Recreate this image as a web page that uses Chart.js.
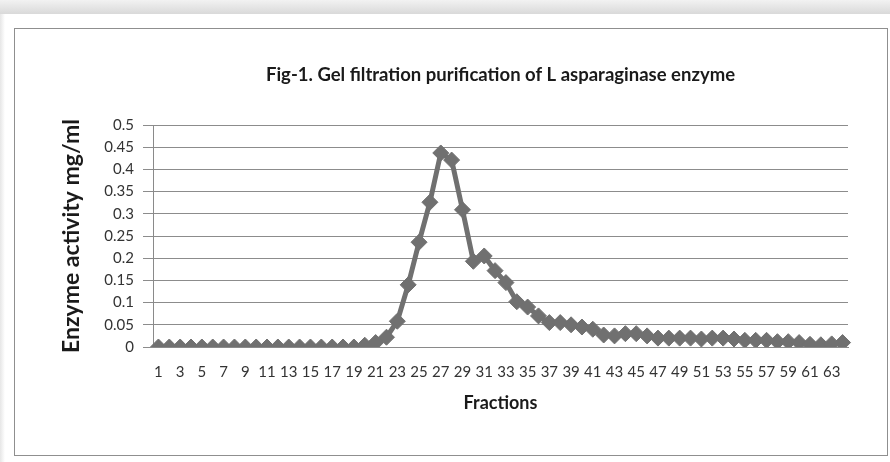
<!DOCTYPE html>
<html>
<head>
<meta charset="utf-8">
<script src="https://cdn.jsdelivr.net/npm/chart.js@4"></script>
<style>
  html, body { margin: 0; padding: 0; width: 890px; height: 462px; overflow: hidden; background: #ffffff; }
  #topshade { position: absolute; left: 0; top: 0; width: 890px; height: 14px;
    background: linear-gradient(#f2f2f2, #d9d9d9); }
  #leftshade { position: absolute; left: 0; top: 14px; width: 5px; height: 448px;
    background: linear-gradient(to right, #e6e6e6, #ffffff); }
  #frame { position: absolute; left: 14px; top: 28px; width: 872px; height: 426px;
    border: 1px solid #8f8f8f; background: #ffffff; }
  #wrap { position: absolute; left: 15px; top: 29px; width: 871px; height: 425px; }
</style>
</head>
<body>
<div id="topshade"></div>
<div id="leftshade"></div>
<div id="frame"></div>
<div id="wrap"><canvas id="c" width="871" height="425"></canvas></div>
<script>
const titleText = "Fig-1. Gel filtration purification of L asparaginase enzyme";
const xTitle = "Fractions";
const yTitle = "Enzyme activity mg/ml";
const fractions = Array.from({length: 64}, (_, i) => String(i + 1));
const activity = [
  0, 0, 0, 0, 0, 0, 0, 0, 0, 0,
  0, 0, 0, 0, 0, 0, 0, 0, 0, 0.004,
  0.01, 0.022, 0.058, 0.14, 0.236, 0.326, 0.437, 0.421, 0.309, 0.193,
  0.205, 0.172, 0.145, 0.102, 0.09, 0.07, 0.055, 0.055, 0.05, 0.045,
  0.04, 0.027, 0.025, 0.03, 0.03, 0.025, 0.02, 0.02, 0.02, 0.02,
  0.018, 0.02, 0.02, 0.018, 0.015, 0.015, 0.015, 0.012, 0.012, 0.01,
  0.006, 0.005, 0.007, 0.01
];
const yTicks = [0, 0.05, 0.1, 0.15, 0.2, 0.25, 0.3, 0.35, 0.4, 0.45, 0.5];

const gray = 'rgb(112,112,112)';
const FONT = 'Lato, "Open Sans", sans-serif';

new Chart(document.getElementById('c'), {
  type: 'line',
  data: {
    labels: fractions,
    datasets: [{
      data: activity,
      borderColor: gray,
      backgroundColor: gray,
      borderWidth: 5,
      pointStyle: 'rectRot',
      pointRadius: 8,
      pointBorderWidth: 1,
      pointBackgroundColor: gray,
      pointBorderColor: gray,
      tension: 0
    }]
  },
  options: {
    responsive: false,
    animation: false,
    layout: { padding: { left: 0, right: 38, top: 0, bottom: 0 } },
    plugins: {
      legend: { display: false },
      tooltip: { enabled: false },
      title: {
        display: true,
        fullSize: false,
        text: titleText,
        color: '#1a1a1a',
        font: { family: FONT, size: 18.5, weight: 'bold', lineHeight: 1.2 },
        padding: { top: 34.9, bottom: 38.9 }
      }
    },
    scales: {
      x: {
        type: 'category',
        offset: true,
        grid: { display: false, drawTicks: false },
        border: { display: true, color: '#8a8a8a', width: 1 },
        ticks: {
          autoSkip: false,
          maxRotation: 0,
          minRotation: 0,
          padding: 16,
          color: '#333333',
          font: { family: FONT, size: 15, lineHeight: 1.2 },
          callback: function(v, i) { return i % 2 === 0 ? this.getLabelForValue(v) : ''; }
        },
        title: {
          display: true,
          text: xTitle,
          color: '#1a1a1a',
          font: { family: FONT, size: 18, weight: 'bold', lineHeight: 1.2 },
          padding: { top: 0, bottom: 40.2 }
        },
        afterFit: function(s) { s.height = 107; }
      },
      y: {
        min: 0,
        max: 0.5,
        afterBuildTicks: function(s) { s.ticks = yTicks.map(v => ({ value: v })); },
        grid: { color: '#8c8c8c', lineWidth: 1, drawTicks: true, tickLength: 10 },
        border: { display: true, color: '#8a8a8a', width: 1 },
        ticks: {
          padding: 9,
          color: '#333333',
          font: { family: FONT, size: 15 },
          callback: function(v) { return String(v); }
        },
        title: {
          display: true,
          text: yTitle,
          color: '#1a1a1a',
          font: { family: FONT, size: 23, weight: 'bold', lineHeight: 1.0 },
          padding: { top: 45.5, bottom: 0 }
        },
        afterFit: function(s) { s.width = 138; }
      }
    }
  }
});
</script>
</body>
</html>
